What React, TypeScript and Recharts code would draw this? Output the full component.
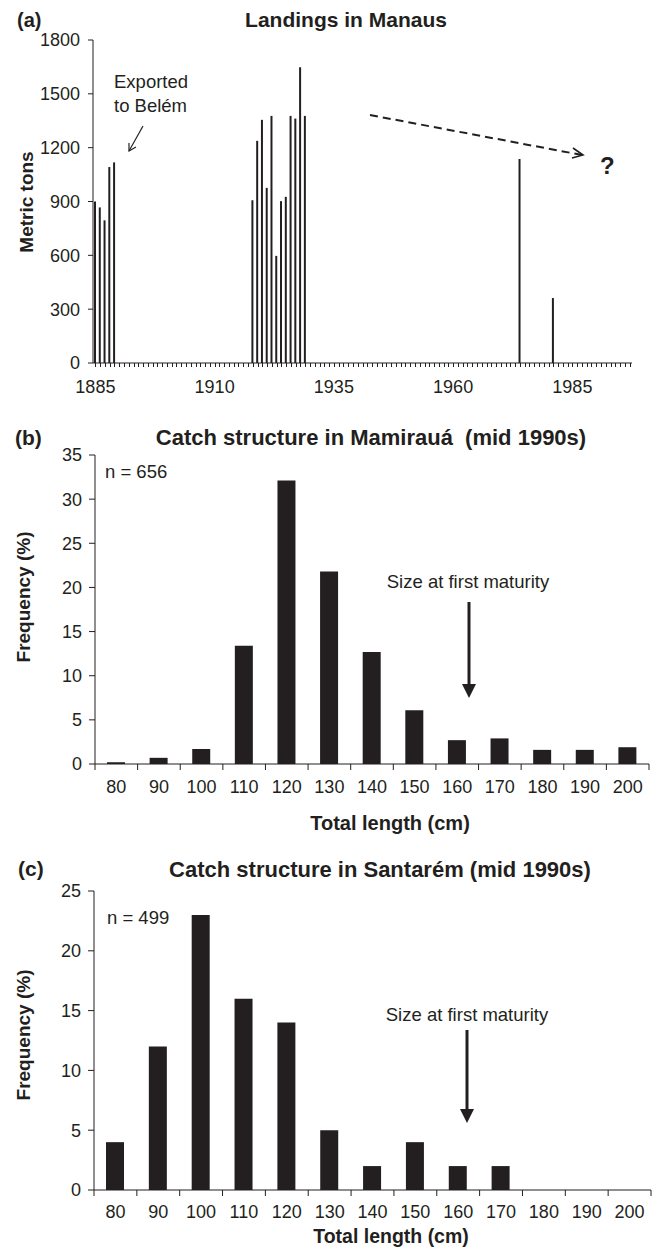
import React from 'react';
import { BarChart, Bar, XAxis, YAxis } from 'recharts';

const FONT = '"Liberation Sans", Arial, Helvetica, sans-serif';
const INK = '#231f20';

// (a) Landings in Manaus, metric tons per year
const FIRST_YEAR = 1885;
const LAST_YEAR = 1997;
const landingYears = [1885, 1886, 1887, 1888, 1889, 1918, 1919, 1920, 1921, 1922, 1923, 1924, 1925, 1926, 1927, 1928, 1929, 1974, 1981];
const landingTons = [900, 867, 795, 1092, 1118, 907, 1238, 1355, 976, 1377, 597, 902, 926, 1377, 1362, 1648, 1377, 1137, 362];
const yearTicks = [1885, 1910, 1935, 1960, 1985];
const tonTicks = [0, 300, 600, 900, 1200, 1500, 1800];

// (b) and (c) catch structure, frequency (%) per total length class (cm)
const lengthClasses = [80, 90, 100, 110, 120, 130, 140, 150, 160, 170, 180, 190, 200];
const mamirauaFreq = [0.2, 0.7, 1.7, 13.4, 32.1, 21.8, 12.7, 6.1, 2.7, 2.9, 1.6, 1.6, 1.9];
const santaremFreq = [4, 12, 23, 16, 14, 5, 2, 4, 2, 2, 0, 0, 0];
const mamirauaTicks = [0, 5, 10, 15, 20, 25, 30, 35];
const santaremTicks = [0, 5, 10, 15, 20, 25];

const W = 655;
const tickFont = { fontSize: 18, fill: INK, fontFamily: FONT };

const landingData: { year: number; tons: number }[] = [];
for (let y = FIRST_YEAR; y <= LAST_YEAR; y++) {
  const i = landingYears.indexOf(y);
  landingData.push({ year: y, tons: i >= 0 ? landingTons[i] : 0 });
}
const mamirauaData = lengthClasses.map((c, i) => ({ cls: c, freq: mamirauaFreq[i] }));
const santaremData = lengthClasses.map((c, i) => ({ cls: c, freq: santaremFreq[i] }));

// one small tick per year, a label every 25 years
function YearTick(props: any) {
  const { x, y, payload } = props;
  const axisY = y - 4 - 13;
  const lx = Math.round(x) + 0.5;
  return (
    <g>
      <line x1={lx} x2={lx} y1={axisY} y2={axisY + 4} stroke={INK} strokeWidth={1} />
      {yearTicks.includes(payload.value) && (
        <text x={x} y={y} dy="0.71em" textAnchor="middle" fontSize={18} fill={INK} fontFamily={FONT}>
          {payload.value}
        </text>
      )}
    </g>
  );
}

// ticks between classes, label in the middle of each class
function makeLengthTick(band: number, tickLen: number, gap: number) {
  return (props: any) => {
    const { x, y, payload, index } = props;
    const axisY = y - tickLen - gap;
    return (
      <g>
        <line x1={x - band / 2} x2={x - band / 2} y1={axisY} y2={axisY + tickLen} stroke={INK} />
        {index === lengthClasses.length - 1 && (
          <line x1={x + band / 2} x2={x + band / 2} y1={axisY} y2={axisY + tickLen} stroke={INK} />
        )}
        <text x={x} y={y} dy="0.71em" textAnchor="middle" fontSize={18} fill={INK} fontFamily={FONT}>
          {payload.value}
        </text>
      </g>
    );
  };
}

function Histogram({ data, ticks, max, margin, height, tickMargin }: any) {
  const band = (W - margin.left - margin.right - 60) / lengthClasses.length;
  const Tick = makeLengthTick(band, 6, tickMargin);
  return (
    <BarChart width={W} height={height} data={data} margin={margin} barSize={18}>
      <XAxis
        dataKey="cls"
        type="category"
        interval={0}
        height={40}
        tickLine={false}
        tickSize={6}
        tickMargin={tickMargin}
        axisLine={{ stroke: INK }}
        tick={<Tick />}
      />
      <YAxis
        width={60}
        domain={[0, max]}
        ticks={ticks}
        interval={0}
        tickSize={6}
        tickMargin={7}
        axisLine={{ stroke: INK }}
        tickLine={{ stroke: INK }}
        tick={tickFont}
      />
      <Bar dataKey="freq" fill={INK} isAnimationActive={false} />
    </BarChart>
  );
}

function DownArrow({ x, y1, y2 }: { x: number; y1: number; y2: number }) {
  return (
    <g>
      <line x1={x} x2={x} y1={y1} y2={y2 - 12} stroke={INK} strokeWidth={3} />
      <polygon points={`${x - 7},${y2 - 14} ${x + 7},${y2 - 14} ${x},${y2}`} fill={INK} />
    </g>
  );
}

function Overlay() {
  const t = { fontFamily: FONT, fill: INK } as const;
  return (
    <svg width={W} height={1249} style={{ position: 'absolute', left: 0, top: 0, pointerEvents: 'none' }}>
      {/* (a) */}
      <text x={17} y={27} fontSize={20} fontWeight="bold" {...t}>(a)</text>
      <text x={346} y={27} fontSize={21} fontWeight="bold" textAnchor="middle" {...t}>Landings in Manaus</text>
      <text transform="translate(33,202) rotate(-90)" fontSize={19} fontWeight="bold" textAnchor="middle" {...t}>Metric tons</text>
      <text x={114} y={88} fontSize={18.5} {...t}>Exported</text>
      <text x={114} y={112} fontSize={18.5} {...t}>to Belém</text>
      <line x1={143} y1={126} x2={129} y2={151} stroke={INK} strokeWidth={1.2} />
      <polyline points="129,143 129,151 136,147" fill="none" stroke={INK} strokeWidth={1.2} />
      <line x1={370} y1={115} x2={582} y2={155} stroke={INK} strokeWidth={2} strokeDasharray="8 5" />
      <polyline points="573,148 583,155 572,158" fill="none" stroke={INK} strokeWidth={1.6} />
      <text x={600} y={174} fontSize={24} fontWeight="bold" {...t}>?</text>

      {/* (b) */}
      <text x={15} y={445} fontSize={21} fontWeight="bold" {...t}>(b)</text>
      <text x={371} y={445} fontSize={22} fontWeight="bold" textAnchor="middle" {...t}>
        {'Catch structure in Mamirauá\u00a0 (mid 1990s)'}
      </text>
      <text x={105} y={478} fontSize={18.5} {...t}>n = 656</text>
      <text transform="translate(30,597) rotate(-90)" fontSize={19} fontWeight="bold" textAnchor="middle" {...t}>Frequency (%)</text>
      <text x={468} y={588} fontSize={18.5} textAnchor="middle" {...t}>Size at first maturity</text>
      <DownArrow x={469} y1={602} y2={698} />
      <text x={390} y={830} fontSize={20} fontWeight="bold" textAnchor="middle" {...t}>Total length (cm)</text>

      {/* (c) */}
      <text x={18} y={876} fontSize={21} fontWeight="bold" {...t}>(c)</text>
      <text x={380} y={877} fontSize={22} fontWeight="bold" textAnchor="middle" {...t}>Catch structure in Santarém (mid 1990s)</text>
      <text x={107} y={924} fontSize={18.5} {...t}>n = 499</text>
      <text transform="translate(30,1035) rotate(-90)" fontSize={19} fontWeight="bold" textAnchor="middle" {...t}>Frequency (%)</text>
      <text x={467} y={1021} fontSize={18.5} textAnchor="middle" {...t}>Size at first maturity</text>
      <DownArrow x={467} y1={1030} y2={1123} />
      <text x={391} y={1243} fontSize={19.5} fontWeight="bold" textAnchor="middle" {...t}>Total length (cm)</text>
    </svg>
  );
}

export default function App() {
  return (
    <div style={{ position: 'absolute', left: 0, top: 0, width: W, height: 1249, background: '#fff', overflow: 'hidden' }}>
      <div style={{ position: 'absolute', left: 0, top: 0 }}>
        <BarChart width={W} height={400} data={landingData} margin={{ top: 40, right: 23, left: 33, bottom: 7 }} barSize={2}>
          <XAxis
            dataKey="year"
            type="category"
            interval={0}
            height={30}
            tickSize={4}
            tickMargin={13}
            axisLine={{ stroke: INK }}
            tickLine={false}
            tick={<YearTick />}
          />
          <YAxis
            width={60}
            domain={[0, 1800]}
            ticks={tonTicks}
            interval={0}
            tickSize={5}
            tickMargin={8}
            axisLine={{ stroke: INK }}
            tickLine={{ stroke: INK }}
            tick={tickFont}
          />
          <Bar dataKey="tons" fill={INK} isAnimationActive={false} />
        </BarChart>
      </div>
      <div style={{ position: 'absolute', left: 0, top: 420 }}>
        <Histogram data={mamirauaData} ticks={mamirauaTicks} max={35} height={420} tickMargin={10}
          margin={{ top: 35, right: 6, left: 35, bottom: 36 }} />
      </div>
      <div style={{ position: 'absolute', left: 0, top: 840 }}>
        <Histogram data={santaremData} ticks={santaremTicks} max={25} height={409} tickMargin={9}
          margin={{ top: 51, right: 4, left: 34, bottom: 19 }} />
      </div>
      <Overlay />
    </div>
  );
}
